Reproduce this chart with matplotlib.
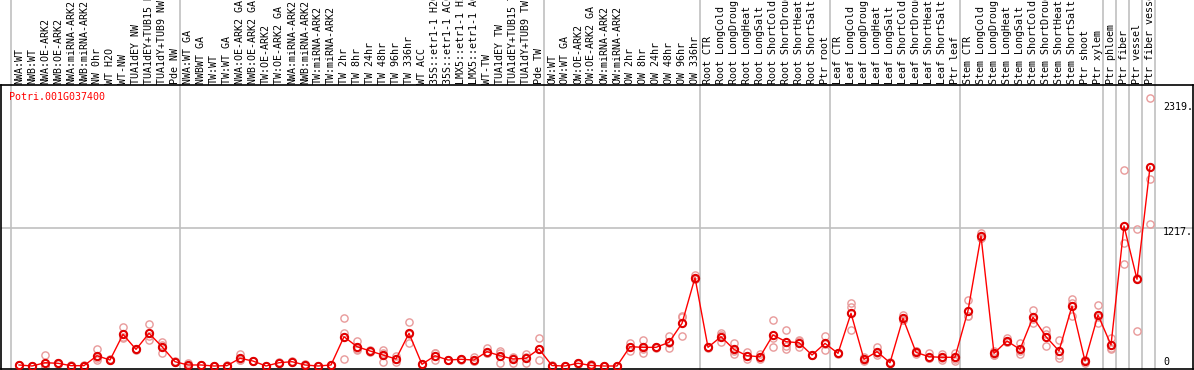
import matplotlib
matplotlib.use("Agg")
import matplotlib.pyplot as plt
import matplotlib.transforms as mtransforms

gene = "Potri.001G037400"

categories = [
    "NWA:WT", "NWB:WT", "NWA:OE-ARK2", "NWB:OE-ARK2", "NWA:miRNA-ARK2", "NWB:miRNA-ARK2",
    "NW 0hr", "WT H2O", "WT-NW", "TUA1dEY NW", "TUA1dEY+TUB15 NW", "TUA1dY+TUB9 NW", "Pde NW",
    "NWA:WT GA", "NWBWT GA", "TW:WT", "TW:WT GA", "NWA:OE-ARK2 GA", "NWB:OE-ARK2 GA",
    "TW:OE-ARK2", "TW:OE-ARK2 GA", "NWA:miRNA-ARK2", "NWB:miRNA-ARK2", "TW:miRNA-ARK2",
    "TW:miRNA-ARK2", "TW 2hr", "TW 8hr", "TW 24hr", "TW 48hr", "TW 96hr", "TW 336hr",
    "WT ACC", "35S::etr1-1 H2O", "35S::etr1-1 ACC", "LMX5::etr1-1 H2O", "LMX5::etr1-1 ACC",
    "WT-TW", "TUA1dEY TW", "TUA1dEY+TUB15 TW", "TUA1dY+TUB9 TW", "Pde TW",
    "OW:WT", "OW:WT GA", "OW:OE-ARK2", "OW:OE-ARK2 GA", "OW:miRNA-ARK2", "OW:miRNA-ARK2",
    "OW 2hr", "OW 8hr", "OW 24hr", "OW 48hr", "OW 96hr", "OW 336hr",
    "Root CTR", "Root LongCold", "Root LongDrought", "Root LongHeat", "Root LongSalt",
    "Root ShortCold", "Root ShortDrought", "Root ShortHeat", "Root ShortSalt", "Ptr root",
    "Leaf CTR", "Leaf LongCold", "Leaf LongDrought", "Leaf LongHeat", "Leaf LongSalt",
    "Leaf ShortCold", "Leaf ShortDrought", "Leaf ShortHeat", "Leaf ShortSalt", "Ptr leaf",
    "Stem CTR", "Stem LongCold", "Stem LongDrought", "Stem LongHeat", "Stem LongSalt",
    "Stem ShortCold", "Stem ShortDrought", "Stem ShortHeat", "Stem ShortSalt",
    "Ptr shoot", "Ptr xylem", "Ptr phloem", "Ptr fiber", "Ptr vessel", "Ptr fiber vessel",
]

mean_values = [
    9, 0, 29, 24, 3, 3, 91, 53, 280, 147, 289, 171, 38,
    9, 9, 0, 3, 68, 44, 0, 29, 38, 9, 0, 9, 259, 171, 133, 97, 62, 289,
    15, 91, 53, 59, 53, 127, 91, 62, 68, 150,
    4, 0, 24, 5, 0, 0, 171, 165, 165, 209, 377, 781,
    165, 259, 147, 91, 82, 274, 215, 206, 97, 200,
    112, 466, 59, 127, 29, 422, 121, 82, 77, 77,
    489, 1149, 112, 221, 147, 431, 259, 133, 530,
    44, 451, 186, 1238, 767, 1759,
]

rep1 = [
    12, 0, 97, 20, 3, 3, 148, 60, 342, 147, 371, 215, 38,
    29, 9, 0, 3, 104, 44, 0, 29, 38, 9, 0, 9, 427, 221, 133, 142, 62, 386,
    15, 112, 53, 59, 77, 156, 133, 83, 104, 245,
    12, 0, 24, 15, 0, 0, 206, 227, 165, 268, 439, 804,
    165, 289, 206, 127, 104, 407, 318, 230, 97, 262,
    112, 554, 83, 171, 29, 451, 104, 112, 104, 118,
    583, 1178, 136, 245, 206, 495, 318, 230, 592,
    24, 539, 245, 1730, 1208, 2367,
]
rep2 = [
    6, 2, 0, 28, 5, 0, 70, 50, 245, 150, 230, 112, 35,
    0, 12, 2, 0, 50, 40, 0, 32, 42, 15, 3, 12, 62, 150, 138, 32, 38, 200,
    20, 50, 56, 62, 40, 112, 24, 29, 24, 53,
    0, 0, 27, 0, 3, 0, 136, 118, 168, 156, 262, 770,
    170, 215, 106, 62, 62, 171, 177, 171, 100, 142,
    115, 525, 44, 97, 32, 410, 130, 67, 53, 47,
    442, 1135, 100, 210, 106, 383, 180, 68, 442,
    54, 377, 150, 1085, 312, 1651,
]
rep3 = [
    9, 0, 0, 24, 0, 5, 55, 50, 253, 144, 266, 186, 41,
    0, 6, 0, 6, 50, 48, 2, 26, 34, 3, 0, 6, 288, 142, 128, 117, 86, 281,
    10, 111, 50, 56, 42, 113, 116, 74, 76, 152,
    0, 3, 21, 0, 0, 2, 171, 150, 162, 203, 430, 769,
    160, 273, 129, 84, 80, 244, 150, 217, 94, 196,
    109, 318, 50, 113, 26, 405, 129, 67, 74, 66,
    442, 1134, 100, 208, 129, 415, 279, 101, 556,
    54, 437, 163, 900, 781, 1253,
]

tick_values = [0, 1217, 2319]
tick_labels = ["0", "1217.", "2319."]
group_boundaries = [-0.5, 12.5, 40.5, 52.5, 62.5, 72.5, 83.5, 84.5, 85.5, 86.5, 87.5]

W, H, DPI = 1194, 370, 100
fig = plt.figure(figsize=(W / DPI, H / DPI), dpi=DPI)
ax_left, ax_right, ax_top, ax_bottom = 1, 1193, 85, 369
ax = fig.add_axes([ax_left / W, (H - ax_bottom) / H,
                   (ax_right - ax_left) / W, (ax_bottom - ax_top) / H])

px_per_cat = 13.0
x0_px = 19.0
ax.set_xlim((ax_left - x0_px) / px_per_cat, (ax_right - x0_px) / px_per_cat)
px_per_unit = 0.1131
zero_px = 366.0
ax.set_ylim(-(ax_bottom - zero_px) / px_per_unit, (zero_px - ax_top) / px_per_unit)

font = "DejaVu Sans Mono"
fs = 7.2

# group separators extending through the label area
ext = 1 + ax_top / (ax_bottom - ax_top)
for b in group_boundaries:
    ax.axvline(b - 1.5 / px_per_cat, ymin=0, ymax=ext, color="#c0c0c0", lw=1.2,
               clip_on=False, zorder=1)
ax.axhline(tick_values[1], color="#c0c0c0", lw=1.2, zorder=1)

xs = list(range(len(categories)))
rep_color = "#e89a9a"
for rep in (rep1, rep2, rep3):
    ax.plot(xs, rep, linestyle="none", marker="o", markersize=5.2,
            markerfacecolor="none", markeredgecolor=rep_color, markeredgewidth=1.0,
            zorder=2)
ax.plot(xs, mean_values, color="#ff0000", lw=1.0, marker="o", markersize=5.2,
        markerfacecolor="none", markeredgecolor="#e00000", markeredgewidth=1.5, zorder=3)

ax.set_xticks([])
ax.set_yticks([])
for s in ax.spines.values():
    s.set_color("black")
    s.set_linewidth(1.2)

# category labels above the plot
trans = mtransforms.blended_transform_factory(ax.transData, ax.transAxes)
for i, lab in enumerate(categories):
    ax.text(i, 1 + 1.5 / (ax_bottom - ax_top), lab, rotation=90, ha="center", va="bottom",
            fontsize=fs, family=font, transform=trans, clip_on=False)

# right-side value labels
label_off = [38, -33, -33]
for v, lab, off in zip(tick_values, tick_labels, label_off):
    ax.text((1163 - x0_px) / px_per_cat, v + off, lab, ha="left", va="center",
            fontsize=fs, family=font)

fig.text(9 / W, 1 - 96.5 / H, gene, color="#ff0000", ha="left", va="center",
         fontsize=fs, family=font)

fig.savefig("out.png", dpi=DPI)
